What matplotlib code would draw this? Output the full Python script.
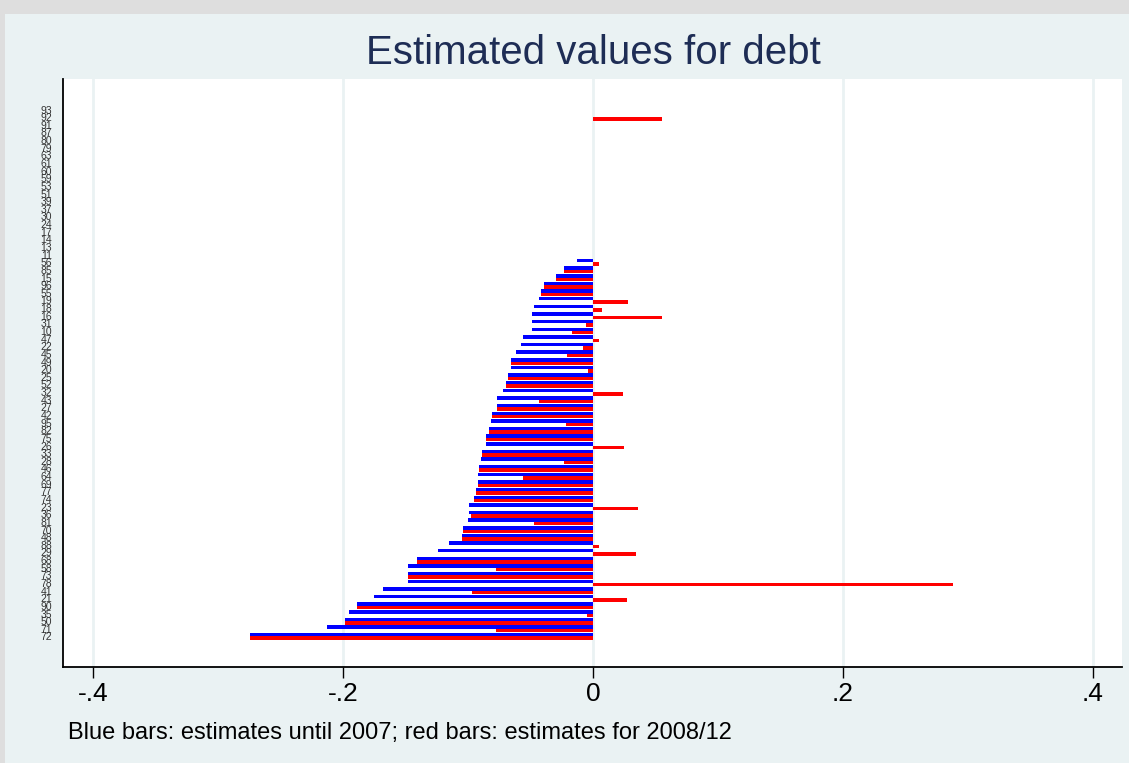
import numpy as np
import matplotlib
matplotlib.use("Agg")
import matplotlib.pyplot as plt
from matplotlib.patches import Rectangle

plt.rcParams["font.family"] = ["Liberation Sans", "DejaVu Sans"]

# Category labels, top to bottom
labels_empty = ["93", "92", "91", "87", "80", "79", "63", "61", "60", "59",
                "53", "51", "39", "37", "30", "24", "17", "14", "13", "11"]
labels_est = ["56", "85", "15", "96", "55", "19", "18", "16", "31", "10",
              "47", "22", "45", "49", "20", "25", "52", "32", "43", "27",
              "42", "95", "82", "75", "26", "33", "28", "46", "64", "69",
              "77", "74", "23", "36", "81", "70", "48", "88", "29", "68",
              "58", "73", "78", "41", "21", "90", "35", "50", "71", "72"]

# Estimates until 2007 (blue) and for 2008/12 (red)
blue_empty = [0.0] * 20
red_empty = [0.0, 0.055] + [0.0] * 18
blue_est = [-0.013, -0.023, -0.030, -0.039, -0.042, -0.043, -0.047, -0.049, -0.049, -0.049,
            -0.056, -0.058, -0.062, -0.066, -0.066, -0.068, -0.070, -0.072, -0.077, -0.077,
            -0.081, -0.082, -0.083, -0.086, -0.086, -0.089, -0.090, -0.091, -0.092, -0.092,
            -0.094, -0.095, -0.099, -0.099, -0.100, -0.104, -0.105, -0.115, -0.124, -0.141,
            -0.148, -0.148, -0.148, -0.168, -0.175, -0.189, -0.195, -0.198, -0.213, -0.274]
red_est = [0.005, -0.023, -0.030, -0.039, -0.042, 0.028, 0.007, 0.055, -0.006, -0.017,
           0.005, -0.008, -0.021, -0.066, -0.004, -0.068, -0.070, 0.024, -0.043, -0.077,
           -0.081, -0.022, -0.083, -0.086, 0.025, -0.089, -0.023, -0.091, -0.056, -0.092,
           -0.094, -0.095, 0.036, -0.098, -0.047, -0.104, -0.105, 0.005, 0.034, -0.141,
           -0.078, -0.148, 0.288, -0.097, 0.027, -0.189, -0.005, -0.198, -0.078, -0.274]

labels = labels_empty + labels_est
blue = np.array(blue_empty + blue_est)
red = np.array(red_empty + red_est)
pos = np.arange(len(labels))

W, H = 1129, 763
fig = plt.figure(figsize=(W / 100, H / 100), dpi=100)
fig.patch.set_facecolor("#EAF2F3")
# grey window margin at the top and left
fig.patches.append(Rectangle((0, 1 - 14 / H), 1, 14 / H, transform=fig.transFigure,
                             facecolor="#DEDEDE", edgecolor="none", zorder=0))
fig.patches.append(Rectangle((0, 0), 5 / W, 1, transform=fig.transFigure,
                             facecolor="#DEDEDE", edgecolor="none", zorder=0))

ax = fig.add_axes([63 / W, 1 - 667 / H, (1122 - 63) / W, (667 - 79) / H])
ax.set_facecolor("white")

h = 0.45
ax.barh(pos - h / 2, blue, height=h, color="#0000FF", linewidth=0, zorder=3)
ax.barh(pos + h / 2, red, height=h, color="#FF0000", linewidth=0, zorder=3)

ax.set_xlim(-0.424, 0.4232)
ax.set_ylim(len(labels) - 1 + 4.0, -4.0)
ax.set_xticks([-0.4, -0.2, 0, 0.2, 0.4])
ax.set_xticklabels(["-.4", "-.2", "0", ".2", ".4"], fontsize=19)
ax.xaxis.grid(True, color="#EAF2F3", linewidth=2, zorder=0)
ax.set_axisbelow(True)
ax.tick_params(axis="x", length=8, width=1, pad=3, colors="black")

ax.set_yticks(pos)
ax.set_yticklabels(labels, fontsize=7.5, color="#333333")
ax.tick_params(axis="y", length=0, pad=8)

for side in ["top", "right"]:
    ax.spines[side].set_visible(False)
ax.spines["left"].set_linewidth(1.3)
ax.spines["bottom"].set_linewidth(1.3)

fig.text(593 / W, 1 - 53 / H, "Estimated values for debt", ha="center", va="center",
         fontsize=29, color="#1E2D55")
fig.text(68 / W, 1 - 733 / H, "Blue bars: estimates until 2007; red bars: estimates for 2008/12",
         ha="left", va="center", fontsize=17, color="black")

fig.savefig("out.png", dpi=100, facecolor=fig.get_facecolor())
